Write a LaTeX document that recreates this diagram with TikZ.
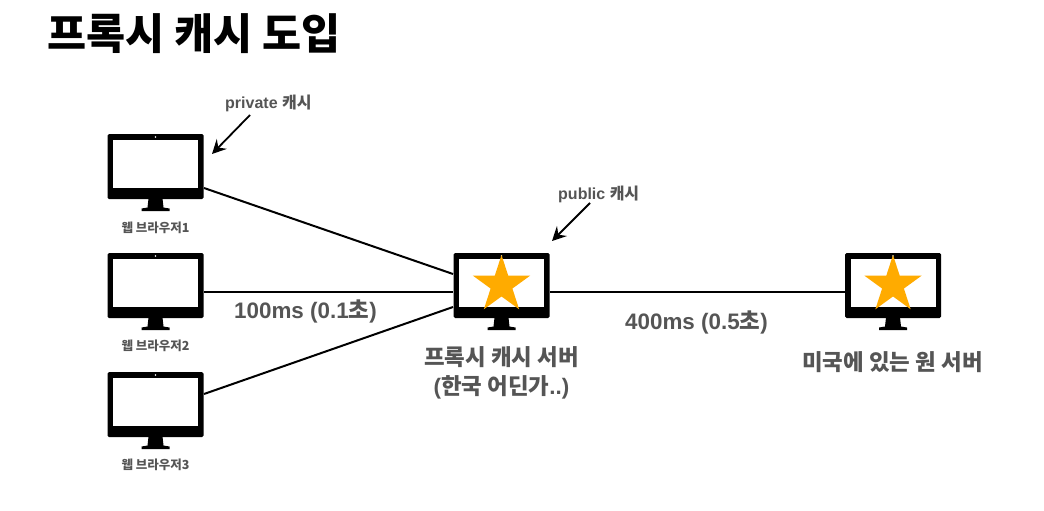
\documentclass[tikz,border=0pt]{standalone}
\usepackage{fontspec}
\setmainfont{Liberation Sans}
\newfontfamily\kr{Noto Sans CJK KR}
\usetikzlibrary{shapes.geometric,arrows.meta}
\definecolor{lbl}{HTML}{555555}
\definecolor{starc}{HTML}{FFAB00}
\tikzset{
 body/.style={draw=none,fill=black,rounded corners=1.5pt,minimum width=96pt,minimum height=65pt,inner sep=0pt,outer sep=0pt},
 screen/.style={draw=none,fill=white,minimum width=85pt,minimum height=48pt,inner sep=0pt},
 cam/.style={circle,fill=white,minimum size=1.6pt,inner sep=0pt},
 starshape/.style={star,star points=5,star point ratio=2.618,fill=starc,draw=none,minimum size=60pt,inner sep=0pt,outer sep=0pt},
 link/.style={line width=2pt,black},
 note/.style={line width=1.8pt,black,-{Stealth[length=14pt,width=14pt,inset=5pt]}},
 small/.style={text=lbl,font=\kr\bfseries\fontsize{12.5}{14}\selectfont,inner sep=0pt},
 tag/.style={text=lbl,font=\bfseries\fontsize{16}{18}\selectfont,inner sep=0pt},
 big/.style={text=lbl,font=\bfseries\fontsize{22.4}{26}\selectfont,inner sep=0pt,align=center},
 ttl/.style={text=black,font=\kr\bfseries\fontsize{42.5}{48}\selectfont,inner sep=0pt}
}
\newcommand{\monitor}[3]{%
 \node[body] (#1) at (#2,#3) {};
 \node[screen] (#1s) at (#2,#3-2.5) {};
 \node[cam] (#1c) at (#2,#3-29.5) {};
 \fill[black] (#2-7,#3+32) -- (#2+7,#3+32) -- (#2+8,#3+41) -- (#2+14,#3+42) -- (#2+14,#3+44.5) -- (#2-14,#3+44.5) -- (#2-14,#3+42) -- (#2-8,#3+41) -- cycle;
}
\begin{document}
\begin{tikzpicture}[x=1pt,y=-1pt]
\useasboundingbox (0,0) rectangle (1044,511);
\fill[white] (0,0) rectangle (1044,511);
\node[ttl,anchor=west] (title) at (47,34) {프록시 캐시 도입};
\monitor{a}{155.5}{166.5}
\monitor{b}{155.5}{285.5}
\monitor{c}{155.5}{404.5}
\monitor{p}{501.5}{285.5}
\monitor{o}{893}{285.5}
\node[starshape] (ps) at (501.5,285) {};
\node[starshape] (os) at (893,285) {};
\coordinate (pa) at (453,274);
\coordinate (pb) at (453,292);
\coordinate (pc) at (453,307);
\coordinate (aa) at (204,188);
\coordinate (bb) at (204,292);
\coordinate (cc) at (204,394);
\coordinate (pd) at (550,292);
\coordinate (oo) at (845,292);
\draw[link] (aa) -- (pa);
\draw[link] (bb) -- (pb);
\draw[link] (cc) -- (pc);
\draw[link] (pd) -- (oo);
\node[small] (la) at (155.5,228) {웹 브라우저1};
\node[small] (lb) at (155.5,346) {웹 브라우저2};
\node[small] (lc) at (155.5,465) {웹 브라우저3};
\node[tag,anchor=west] (priv) at (225,103.5) {private \kr 캐시};
\node[tag,anchor=west] (pub) at (558,194) {public \kr 캐시};
\coordinate (privs) at (250,115);
\coordinate (privt) at (212,154);
\coordinate (pubs) at (590,203);
\coordinate (pubt) at (552,241);
\draw[note] (privs) -- (privt);
\draw[note] (pubs) -- (pubt);
\node[big,anchor=west] (l1) at (234,311) {100ms (0.1\kr 초\rmfamily)};
\node[big,anchor=west] (l2) at (625,322) {400ms (0.5\kr 초\rmfamily)};
\node[big] (l3) at (501.5,357) {\kr 프록시 캐시 서버};
\node[big] (l4) at (501.5,387) {(\kr 한국 어딘가\rmfamily ..)};
\node[big] (l5) at (892.5,362.5) {\kr 미국에 있는 원 서버};
\end{tikzpicture}
\end{document}
